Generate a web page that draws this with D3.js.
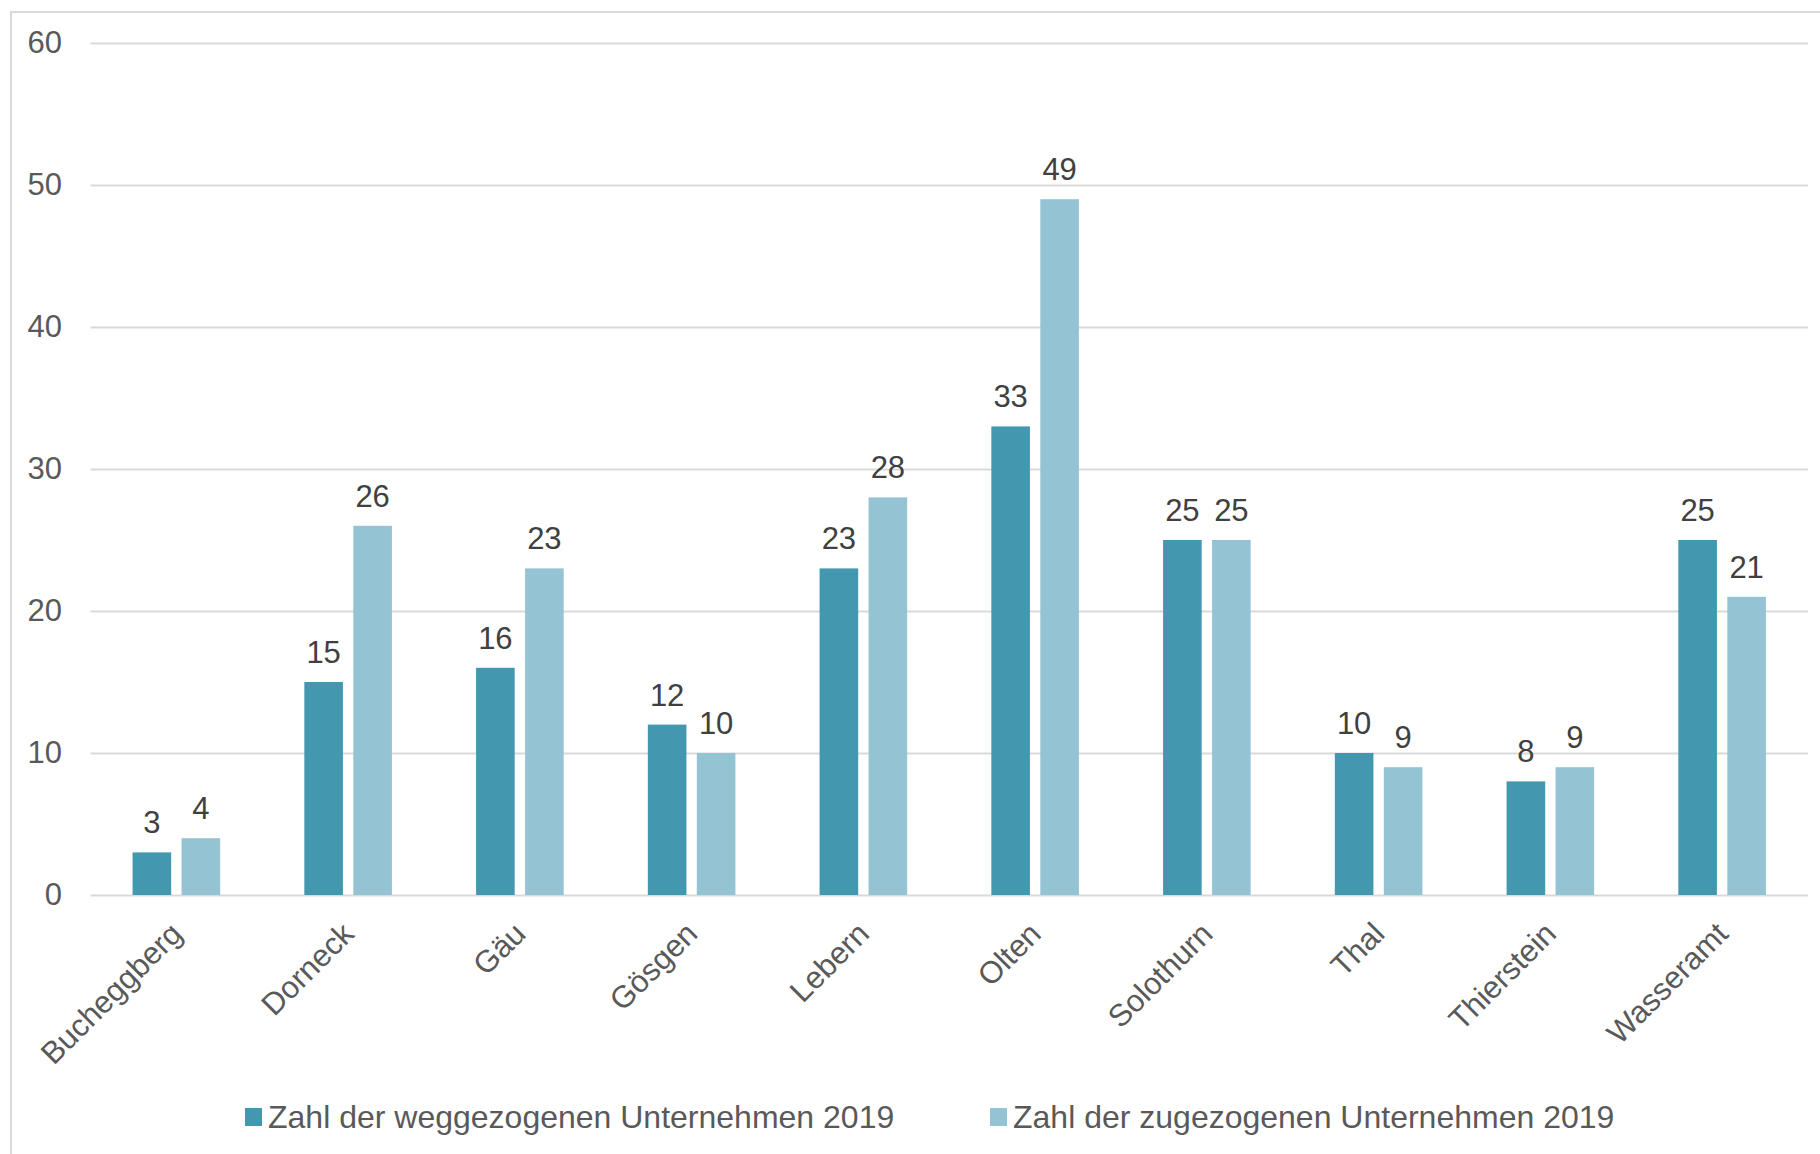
<!DOCTYPE html>
<html>
<head>
<meta charset="utf-8">
<script src="https://cdn.jsdelivr.net/npm/d3@7"></script>
<style>
    body { margin: 0; background: #fff; }
    svg { display: block; font-family: "Liberation Sans", Arial, sans-serif; }
</style>
</head>
<body>
<div id="chart"></div>
<script>
var width = 1820;
var height = 1154;

// data
var regions = ["Bucheggberg", "Dorneck", "Gäu", "Gösgen", "Lebern", "Olten", "Solothurn", "Thal", "Thierstein", "Wasseramt"];
var seriesNames = ["Zahl der weggezogenen Unternehmen 2019", "Zahl der zugezogenen Unternehmen 2019"];
var weggezogen = [3, 15, 16, 12, 23, 33, 25, 10, 8, 25];
var zugezogen = [4, 26, 23, 10, 28, 49, 25, 9, 9, 21];
var yTicks = [0, 10, 20, 30, 40, 50, 60];

var colours = ["#4398B0", "#94C3D4"];
var gridColour = "#d9d9d9";

var plotLeft = 90.5, plotRight = 1808, plotTop = 43, plotBottom = 895;

var svg = d3.select("#chart")
    .append("svg")
    .attr("width", width)
    .attr("height", height);

//outer frame (right and bottom edges are cut off in the original)
svg.append("rect")
    .attr("x", 11)
    .attr("y", 12)
    .attr("width", width + 20)
    .attr("height", height + 20)
    .attr("fill", "none")
    .attr("stroke", gridColour)
    .attr("stroke-width", 2);

var x0 = d3.scaleBand()
    .domain(regions)
    .range([plotLeft, plotRight])
    .paddingInner(0.49)
    .paddingOuter(0.245);

var x1 = d3.scaleBand()
    .domain([0, 1])
    .range([0, x0.bandwidth()])
    .paddingInner(0.212);

var y = d3.scaleLinear()
    .domain([0, 60])
    .range([plotBottom, plotTop]);

//Gridlines + y labels
var yAxis = svg.append("g")
    .attr("transform", `translate(${plotLeft},0)`)
    .call(d3.axisLeft(y)
        .tickValues(yTicks)
        .tickSizeInner(-(plotRight - plotLeft))
        .tickSizeOuter(0)
        .tickPadding(28.5));

yAxis.select(".domain").remove();
yAxis.selectAll(".tick line")
    .attr("stroke", gridColour)
    .attr("stroke-width", 2);
yAxis.selectAll(".tick text")
    .attr("fill", "#595959")
    .style("font-size", "31px")
    .style("font-family", "'Liberation Sans', Arial, sans-serif");

//x labels, rotated
var xAxis = svg.append("g")
    .attr("transform", `translate(0,${plotBottom})`)
    .call(d3.axisBottom(x0).tickSize(0));

xAxis.select(".domain").remove();
xAxis.selectAll(".tick text")
    .attr("fill", "#595959")
    .attr("text-anchor", "end")
    .attr("y", 0)
    .attr("dy", "0.35em")
    .attr("transform", "translate(0,33) rotate(-45)")
    .style("font-size", "31px")
    .style("font-family", "'Liberation Sans', Arial, sans-serif");

var table = regions.map((r, i) => ({ region: r, values: [weggezogen[i], zugezogen[i]] }));

var groups = svg.selectAll("g.group")
    .data(table)
    .enter()
    .append("g")
    .attr("class", "group")
    .attr("transform", (d) => `translate(${x0(d.region)},0)`);

groups.selectAll("rect")
    .data((d) => d.values.map((v, k) => ({ k: k, v: v })))
    .enter()
    .append("rect")
    .attr("x", (d) => x1(d.k))
    .attr("y", (d) => y(d.v))
    .attr("width", x1.bandwidth())
    .attr("height", (d) => y(0) - y(d.v))
    .attr("fill", (d) => colours[d.k]);

groups.selectAll("text")
    .data((d) => d.values.map((v, k) => ({ k: k, v: v })))
    .enter()
    .append("text")
    .attr("x", (d) => x1(d.k) + x1.bandwidth() / 2)
    .attr("y", (d) => y(d.v) - 19)
    .attr("text-anchor", "middle")
    .attr("fill", "#404040")
    .style("font-size", "31px")
    .text((d) => d.v);

//Legend
var legendX = [245, 990];
var legend = svg.selectAll("g.legend")
    .data(seriesNames)
    .enter()
    .append("g")
    .attr("class", "legend")
    .attr("transform", (d, i) => `translate(${legendX[i]},1117)`);

legend.append("rect")
    .attr("x", 0)
    .attr("y", -9)
    .attr("width", 17)
    .attr("height", 18)
    .attr("fill", (d, i) => colours[i]);

legend.append("text")
    .attr("x", 23)
    .attr("y", 0)
    .attr("dy", "0.35em")
    .attr("fill", "#595959")
    .style("font-size", "32px")
    .text((d) => d);
</script>
</body>
</html>
